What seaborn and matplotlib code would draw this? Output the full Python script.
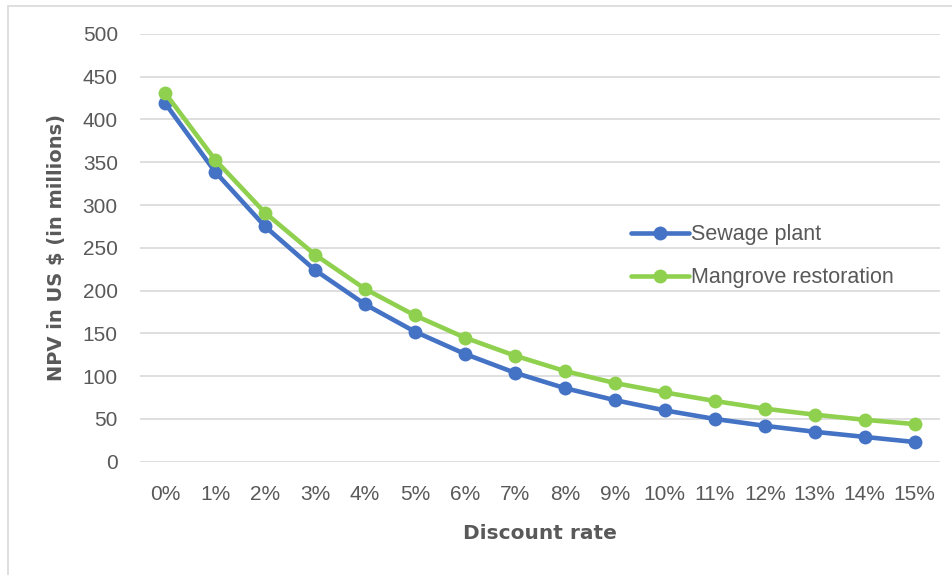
import matplotlib
matplotlib.use("Agg")
import matplotlib.pyplot as plt
import seaborn as sns
import pandas as pd
from matplotlib.patches import Rectangle

rates = ["0%", "1%", "2%", "3%", "4%", "5%", "6%", "7%", "8%", "9%",
         "10%", "11%", "12%", "13%", "14%", "15%"]
sewage = [419, 339, 275, 224, 184, 152, 126, 104, 86, 72, 60, 50, 42, 35, 29, 23]
mangrove = [431, 353, 291, 242, 202, 171, 145, 124, 106, 92, 81, 71, 62, 55, 49, 44]
series_names = ["Sewage plant", "Mangrove restoration"]
colors = ["#4472C4", "#8FD14F"]
yticks = [0, 50, 100, 150, 200, 250, 300, 350, 400, 450, 500]

df = pd.DataFrame({
    "rate": rates * 2,
    "npv": sewage + mangrove,
    "series": [series_names[0]] * len(rates) + [series_names[1]] * len(rates),
})

sns.set_theme(style="white")
plt.rcParams["font.family"] = ["Liberation Sans", "DejaVu Sans"]

fig = plt.figure(figsize=(9.53, 5.75), dpi=100)
ax = fig.add_axes([0.147, 0.197, 0.839, 0.744])

sns.lineplot(data=df, x="rate", y="npv", hue="series", palette=colors,
             marker="o", markersize=10, markeredgewidth=0, linewidth=3.3,
             sort=False, ax=ax)

ax.set_xlim(-0.5, len(rates) - 0.5)
ax.set_ylim(0, 500)
ax.set_yticks(yticks)
ax.grid(axis="y", color="#d9d9d9", linewidth=1.2)
ax.set_axisbelow(True)
for s in ax.spines.values():
    s.set_visible(False)
ax.tick_params(axis="both", length=0, labelsize=15, labelcolor="#595959")
ax.tick_params(axis="x", pad=17)
ax.tick_params(axis="y", pad=16)

ax.set_xlabel("Discount rate", fontsize=14.5, fontweight="bold", color="#595959",
              labelpad=14, family=["DejaVu Sans"])
ax.set_ylabel("NPV in US $ (in millions)", fontsize=14, fontweight="bold",
              color="#595959", labelpad=12, family=["DejaVu Sans"])

leg = ax.legend(loc="center left", bbox_to_anchor=(0.59, 0.48), frameon=False,
                fontsize=15.5, handlelength=2.7, handletextpad=0.1, labelspacing=1.02)
for t in leg.get_texts():
    t.set_color("#595959")

fig.patches.append(Rectangle((0.008, -0.01), 1.2, 1.0, transform=fig.transFigure,
                             fill=False, edgecolor="#d9d9d9", linewidth=1.2))

fig.savefig("out.png", dpi=100)
